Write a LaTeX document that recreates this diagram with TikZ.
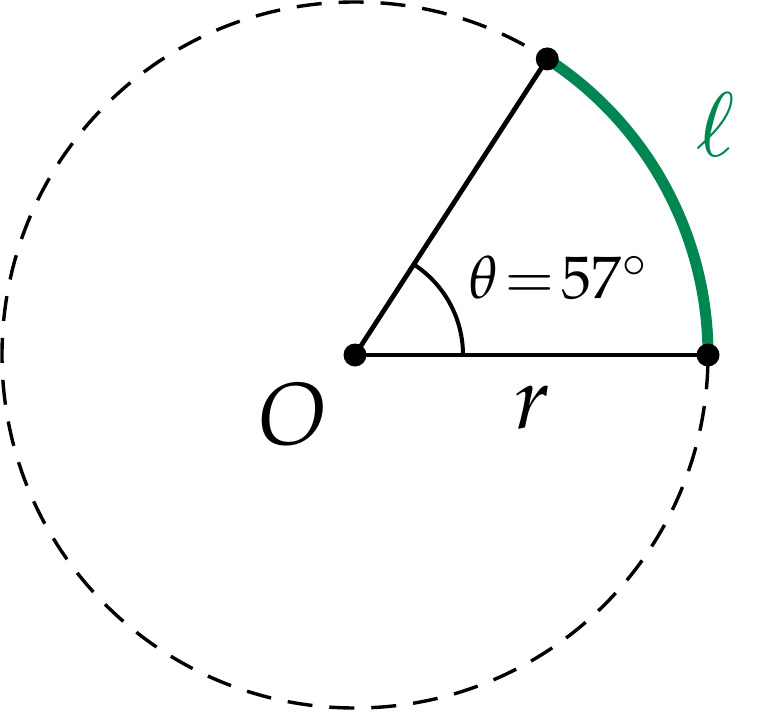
\documentclass[tikz,border=0pt]{standalone}
\usepackage{mathpazo}
\definecolor{arcgreen}{RGB}{0,135,81}
\begin{document}
\begin{tikzpicture}[x=0.5pt,y=0.5pt,
  dot/.style={circle,fill=black,inner sep=0pt,minimum size=11.5pt},
  radiusline/.style={line width=2.4pt},
  dashedcircle/.style={line width=1.7pt,dash pattern=on 12.5pt off 8.5pt},
  greenarc/.style={line width=5.5pt,draw=arcgreen},
  anglearc/.style={line width=2pt},
  biglabel/.style={inner sep=0pt,font=\fontsize{44}{50}\selectfont},
  anglelabel/.style={inner sep=0pt,font=\fontsize{30}{36}\selectfont}]
\useasboundingbox (-355,-357) rectangle (414,355);
\coordinate (O) at (0,0);
\coordinate (A) at (353,0);
\coordinate (B) at (57:353);
\coordinate (C) at (108,0);
\draw[dashedcircle] (O) circle[radius=353];
\draw[greenarc] (A) arc[start angle=0,end angle=57,radius=353];
\draw[radiusline] (O) -- (A);
\draw[radiusline] (O) -- (B);
\draw[anglearc] (C) arc[start angle=0,end angle=57,radius=108];
\node[dot] (dO) at (O) {};
\node[dot] (dA) at (A) {};
\node[dot] (dB) at (B) {};
\node[anglelabel] (theta) at (203,77) {$\theta\mskip2mu{=}\mskip2mu57^\circ$};
\node[biglabel] (lO) at (-62,-59) {$O$};
\node[biglabel] (lr) at (177,-53) {$r$};
\node[biglabel,text=arcgreen] (ll) at (361,231) {$\ell$};
\end{tikzpicture}
\end{document}
